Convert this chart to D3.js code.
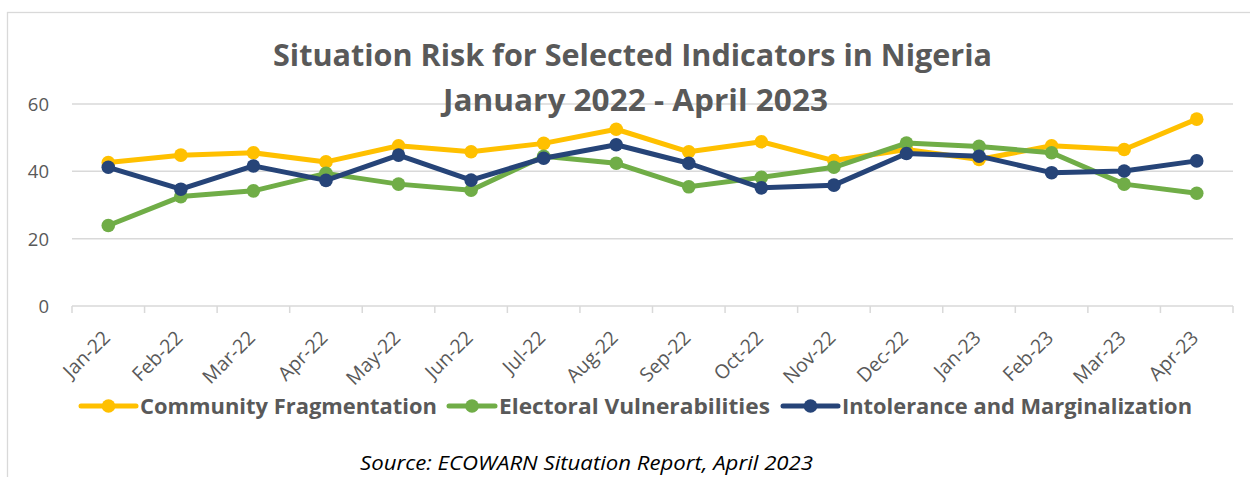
<!DOCTYPE html>
<html>
<head>
<meta charset="utf-8">
<script src="https://cdn.jsdelivr.net/npm/d3@7/dist/d3.min.js"></script>
<style>
  html, body { margin: 0; padding: 0; background: #fff; }
  svg { display: block; }
  text { font-family: "Open Sans", "Noto Sans", sans-serif; }
</style>
</head>
<body>
<svg id="chart" width="1250" height="477"></svg>
<script>
// Monthly situation-risk scores, Jan 2022 – Apr 2023
const months = ["Jan-22", "Feb-22", "Mar-22", "Apr-22", "May-22", "Jun-22", "Jul-22", "Aug-22",
                "Sep-22", "Oct-22", "Nov-22", "Dec-22", "Jan-23", "Feb-23", "Mar-23", "Apr-23"];
const communityFragmentation = [42.6, 44.8, 45.5, 42.8, 47.6, 45.8, 48.3, 52.5,
                                45.8, 48.8, 43.2, 46.5, 43.5, 47.6, 46.5, 55.5];
const electoralVulnerabilities = [23.9, 32.5, 34.2, 39.4, 36.2, 34.4, 44.5, 42.4,
                                  35.4, 38.2, 41.2, 48.4, 47.4, 45.5, 36.2, 33.5];
const intoleranceMarginalization = [41.2, 34.7, 41.6, 37.3, 44.8, 37.4, 43.9, 47.9,
                                    42.4, 35.1, 35.9, 45.3, 44.5, 39.6, 40.1, 43.1];
const yTicks = [0, 20, 40, 60];
const seriesNames = ["Community Fragmentation", "Electoral Vulnerabilities", "Intolerance and Marginalization"];
const titleLines = ["Situation Risk for Selected Indicators in Nigeria", "January 2022 - April 2023"];
const sourceNote = "Source: ECOWARN Situation Report, April 2023";

const colors = ["#FFC000", "#70AD47", "#264478"];
const textGray = "#595959";
const gridGray = "#d9d9d9";

const series = [communityFragmentation, electoralVulnerabilities, intoleranceMarginalization]
  .map((values, i) => ({ name: seriesNames[i], color: colors[i], values }));

const svg = d3.select("#chart");

// Chart-area frame (extends past the right and bottom edges)
svg.append("rect")
  .attr("x", 7.5).attr("y", 12.5)
  .attr("width", 1400).attr("height", 600)
  .attr("fill", "#fff").attr("stroke", gridGray).attr("stroke-width", 1.3);

const plot = { left: 72, right: 1233, top: 104, bottom: 306 };

const x = d3.scaleBand().domain(months).range([plot.left, plot.right]).padding(0);
const cx = m => x(m) + x.bandwidth() / 2;
const y = d3.scaleLinear().domain([0, 60]).range([plot.bottom, plot.top]);

// Horizontal gridlines
svg.append("g")
  .selectAll("line")
  .data(yTicks.filter(t => t > 0))
  .join("line")
  .attr("x1", plot.left).attr("x2", plot.right)
  .attr("y1", d => y(d)).attr("y2", d => y(d))
  .attr("stroke", gridGray).attr("stroke-width", 1.5);

// Y axis labels
const yAxis = svg.append("g")
  .attr("transform", `translate(${plot.left - 23},0)`)
  .call(d3.axisLeft(y).tickValues(yTicks).tickSize(0).tickPadding(0));
yAxis.select(".domain").remove();
yAxis.selectAll("text")
  .attr("fill", textGray)
  .style("font-size", "18.5px")
  .attr("dy", "0.35em");

// X axis: baseline with tick marks at category boundaries
const xAxis = svg.append("g").attr("transform", `translate(0,${plot.bottom})`);
xAxis.append("line")
  .attr("x1", plot.left).attr("x2", plot.right)
  .attr("stroke", gridGray).attr("stroke-width", 1.5);
const boundaries = months.map(m => x(m)).concat([x(months[months.length - 1]) + x.bandwidth()]);
xAxis.selectAll("line.tick")
  .data(boundaries)
  .join("line")
  .attr("class", "tick")
  .attr("x1", d => d).attr("x2", d => d)
  .attr("y1", 0).attr("y2", 7)
  .attr("stroke", gridGray).attr("stroke-width", 1.5);

xAxis.selectAll("text")
  .data(months)
  .join("text")
  .attr("transform", d => `translate(${cx(d) + 3},${33}) rotate(-45)`)
  .attr("text-anchor", "end")
  .attr("fill", textGray)
  .style("font-size", "19.5px")
  .text(d => d);

// Lines and markers
const line = d3.line()
  .x((d, i) => cx(months[i]))
  .y(d => y(d));

const seriesG = svg.append("g")
  .selectAll("g")
  .data(series)
  .join("g");

seriesG.append("path")
  .attr("d", d => line(d.values))
  .attr("fill", "none")
  .attr("stroke", d => d.color)
  .attr("stroke-width", 5)
  .attr("stroke-linejoin", "round")
  .attr("stroke-linecap", "round");

seriesG.selectAll("circle")
  .data(d => d.values.map((v, i) => ({ v, m: months[i], color: d.color })))
  .join("circle")
  .attr("cx", d => cx(d.m))
  .attr("cy", d => y(d.v))
  .attr("r", 6.8)
  .attr("fill", d => d.color);

// Fit a text element to a target width
function fitWidth(sel, w) {
  const natural = sel.node().getComputedTextLength();
  if (Math.abs(natural - w) > 1) {
    sel.attr("textLength", w).attr("lengthAdjust", "spacingAndGlyphs");
  }
  return sel;
}

// Title
const titleSpecs = [
  { text: titleLines[0], x: 273, y: 66, w: 719 },
  { text: titleLines[1], x: 443, y: 111, w: 385 }
];
titleSpecs.forEach(s => {
  const t = svg.append("text")
    .attr("x", s.x).attr("y", s.y)
    .attr("fill", textGray)
    .style("font-size", "29.5px")
    .style("font-weight", "700")
    .text(s.text);
  fitWidth(t, s.w);
});

// Legend
const legendY = 406;
const legendSpecs = [
  { lx: 81, tx: 140, w: 297 },
  { lx: 449, tx: 499, w: 271 },
  { lx: 783, tx: 842, w: 350 }
];
const legend = svg.append("g");
series.forEach((s, i) => {
  const L = legendSpecs[i];
  const g = legend.append("g");
  g.append("line")
    .attr("x1", L.lx).attr("x2", L.tx - 4)
    .attr("y1", legendY).attr("y2", legendY)
    .attr("stroke", s.color).attr("stroke-width", 5)
    .attr("stroke-linecap", "round");
  g.append("circle")
    .attr("cx", (L.lx + L.tx - 4) / 2).attr("cy", legendY)
    .attr("r", 6.8).attr("fill", s.color);
  const t = g.append("text")
    .attr("x", L.tx).attr("y", legendY)
    .attr("dy", "0.36em")
    .attr("fill", textGray)
    .style("font-size", "22px")
    .style("font-weight", "700")
    .text(s.name);
  fitWidth(t, L.w);
});

// Source note
const src = svg.append("text")
  .attr("x", 360).attr("y", 470)
  .attr("fill", "#000")
  .style("font-size", "20px")
  .style("font-style", "italic")
  .text(sourceNote);
fitWidth(src, 453);
</script>
</body>
</html>
